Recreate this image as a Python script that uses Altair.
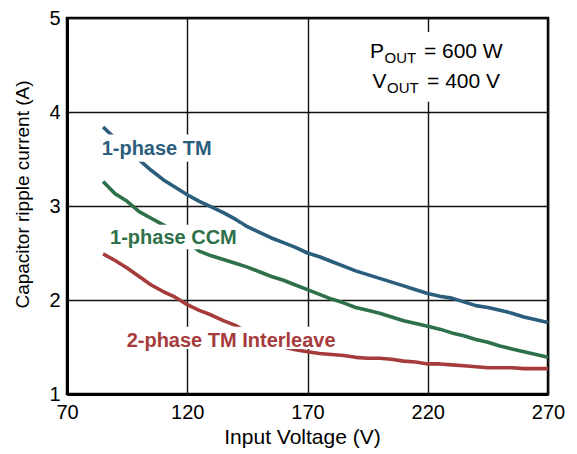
import altair as alt
import pandas as pd

# ---- data ----
voltage = [85, 90, 95, 100, 105, 110, 115, 120, 125, 130, 135, 140, 145, 150, 155, 160,
           165, 170, 175, 180, 185, 190, 195, 200, 205, 210, 215, 220, 225, 230, 235,
           240, 245, 250, 255, 260, 265, 270]
tm_1phase = [3.84, 3.72, 3.60, 3.49, 3.38, 3.28, 3.20, 3.12, 3.05, 2.99, 2.93, 2.86, 2.78,
             2.72, 2.66, 2.61, 2.56, 2.50, 2.46, 2.41, 2.36, 2.31, 2.27, 2.23, 2.19, 2.15,
             2.11, 2.07, 2.04, 2.02, 1.98, 1.94, 1.92, 1.89, 1.86, 1.82, 1.79, 1.76]
ccm_1phase = [3.26, 3.13, 3.05, 2.94, 2.87, 2.80, 2.72, 2.62, 2.52, 2.47, 2.43, 2.39, 2.35,
              2.30, 2.25, 2.21, 2.16, 2.11, 2.06, 2.01, 1.97, 1.92, 1.89, 1.86, 1.82, 1.78,
              1.75, 1.72, 1.69, 1.65, 1.62, 1.58, 1.55, 1.51, 1.48, 1.45, 1.42, 1.39]
tm_2phase = [2.49, 2.42, 2.34, 2.25, 2.16, 2.09, 2.03, 1.95, 1.89, 1.84, 1.78, 1.73, 1.66,
             1.60, 1.55, 1.50, 1.47, 1.45, 1.43, 1.42, 1.41, 1.39, 1.38, 1.38, 1.37, 1.35,
             1.34, 1.32, 1.32, 1.31, 1.30, 1.29, 1.28, 1.28, 1.28, 1.27, 1.27, 1.27]

series_names = ["1-phase TM", "1-phase CCM", "2-phase TM Interleave"]
series_colors = ["#2b5e7d", "#2e7049", "#a63b3b"]
x_ticks = [70, 120, 170, 220, 270]
y_ticks = [1, 2, 3, 4, 5]

# label positions (data units): left x, baseline y
label_v = [84.4, 87.9, 94.8]
label_i = [3.545, 2.60, 1.503]
# white boxes behind labels
box_v1 = [83.3, 86.6, 93.3, 195.0]
box_v2 = [132.8, 142.8, 182.5, 252.0]
box_i1 = [3.47, 2.54, 1.48, 4.11]
box_i2 = [3.76, 2.80, 1.715, 4.85]

# operating-point annotation pieces
ann_text = ["P", "OUT", "= 600 W", "V", "OUT", "= 400 V"]
ann_v = [196.0, 202.0, 218.4, 197.0, 203.1, 219.7]
ann_i = [4.57, 4.52, 4.57, 4.255, 4.2, 4.255]
ann_size = [21, 15, 21, 21, 15, 21]

FONT = "Liberation Sans"

rows = []
for name, vals in zip(series_names, [tm_1phase, ccm_1phase, tm_2phase]):
    for v, i in zip(voltage, vals):
        rows.append({"series": name, "v": v, "i": i})
df = pd.DataFrame(rows)

labels_df = pd.DataFrame({"series": series_names, "v": label_v, "i": label_i})
boxes_df = pd.DataFrame({"v": box_v1, "v2": box_v2, "i": box_i1, "i2": box_i2})
ann_df = pd.DataFrame({"t": ann_text, "v": ann_v, "i": ann_i, "s": ann_size})

color_scale = alt.Scale(domain=series_names, range=series_colors)
xs = alt.Scale(domain=[70, 270], nice=False, zero=False)
ys = alt.Scale(domain=[1, 5], nice=False, zero=False)

lines = alt.Chart(df).mark_line(strokeWidth=3.6, strokeJoin="round", strokeCap="butt").encode(
    x=alt.X("v:Q", scale=xs, axis=alt.Axis(values=x_ticks, title="Input Voltage (V)",
                                           labelPadding=8, titlePadding=4, format="d",
                                           labelFlush=False, titleFontSize=21,
                                           titleX=235, titleAlign="center")),
    y=alt.Y("i:Q", scale=ys, axis=alt.Axis(values=y_ticks, title="Capacitor ripple current (A)",
                                           labelPadding=7, titlePadding=16, format="d",
                                           labelFlush=False, titleFontSize=19,
                                           titleY=176, titleAlign="center")),
    color=alt.Color("series:N", scale=color_scale, legend=None),
)

boxes = alt.Chart(boxes_df).mark_rect(color="white").encode(
    x="v:Q", x2="v2", y="i:Q", y2="i2"
)

labels = alt.Chart(labels_df).mark_text(
    align="left", baseline="alphabetic", font=FONT, fontSize=20, fontWeight="bold"
).encode(
    x="v:Q", y="i:Q", text="series:N",
    color=alt.Color("series:N", scale=color_scale, legend=None),
)

ann = alt.Chart(ann_df).mark_text(
    align="left", baseline="alphabetic", font=FONT, color="black"
).encode(
    x="v:Q", y="i:Q", text="t:N", size=alt.Size("s:Q", scale=None, legend=None)
)

chart = alt.layer(lines, boxes, labels, ann).properties(
    width=481, height=376,
    autosize=alt.AutoSizeParams(type="none"),
    padding={"left": 59, "top": 10, "right": 21, "bottom": 60},
).configure_axis(
    labelFont=FONT, titleFont=FONT, labelFontSize=20, titleFontSize=20,
    titleFontWeight="normal", labelColor="black", titleColor="black",
    ticks=False, grid=True, gridColor="#111111", gridWidth=1.4,
    domainColor="black", domainWidth=3,
).configure_view(stroke="black", strokeWidth=2.5)

chart.save("out.html", embed_options={"renderer": "svg", "actions": False})
